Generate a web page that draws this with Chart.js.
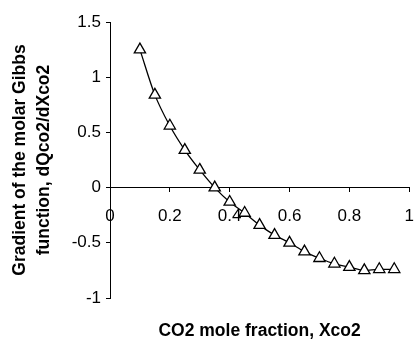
<!DOCTYPE html>
<html>
<head>
<meta charset="utf-8">
<script src="https://cdn.jsdelivr.net/npm/chart.js@4/dist/chart.umd.min.js"></script>
<style>
  html, body { margin: 0; padding: 0; background: #fff; }
  #wrap { width: 417px; height: 342px; }
</style>
</head>
<body>
<div id="wrap"><canvas id="chart"></canvas></div>
<script>
// CO2 mole fraction
const xco2 = [0.1, 0.15, 0.2, 0.25, 0.3, 0.35, 0.4, 0.45, 0.5, 0.55, 0.6, 0.65, 0.7, 0.75, 0.8, 0.85, 0.9, 0.95];
// gradient dQco2/dXco2
const gradient = [1.25, 0.84, 0.56, 0.34, 0.16, 0.0, -0.13, -0.23, -0.34, -0.43, -0.5, -0.58, -0.64, -0.69, -0.72, -0.75, -0.74, -0.74];

const xTitle = 'CO2 mole fraction, Xco2';
const yTitle = ['Gradient of the molar Gibbs', 'function, dQco2/dXco2'];

const font = 'Liberation Sans, Arial, sans-serif';
const fmt = v => String(Math.round(v * 10) / 10);

new Chart(document.getElementById('chart'), {
  type: 'line',
  data: {
    datasets: [{
      data: xco2.map((x, i) => ({ x: x, y: gradient[i] })),
      borderColor: '#000',
      borderWidth: 1.3,
      cubicInterpolationMode: 'monotone',
      pointStyle: 'triangle',
      pointRadius: 6.5,
      pointBorderWidth: 1.3,
      pointBackgroundColor: '#fff',
      pointBorderColor: '#000',
      fill: false
    }]
  },
  options: {
    responsive: true,
    maintainAspectRatio: false,
    animation: false,
    layout: { padding: { top: 22, right: 3, left: 8, bottom: 0 } },
    plugins: { legend: { display: false }, tooltip: { enabled: false } },
    scales: {
      x: {
        type: 'linear',
        min: 0, max: 1,
        position: 'bottom',
        grid: { display: false },
        border: { display: false },
        ticks: { display: false },
        title: {
          display: true,
          text: xTitle,
          color: '#000',
          font: { family: font, size: 17.5, weight: 'bold' },
          padding: { top: 0, bottom: 0 }
        },
        afterFit: s => { s.height = 44; s.paddingLeft = 0; s.paddingRight = 0; }
      },
      x2: {
        type: 'linear',
        min: 0, max: 1,
        position: { y: 0 },
        grid: { drawOnChartArea: false, tickLength: 4, color: '#000' },
        border: { display: true, color: '#000', width: 1 },
        ticks: {
          stepSize: 0.2,
          color: '#000',
          padding: 15,
          maxRotation: 0,
          font: { family: font, size: 17 },
          callback: fmt
        },
        afterFit: s => { s.paddingLeft = 0; s.paddingRight = 0; }
      },
      y: {
        min: -1, max: 1.5,
        grid: { drawOnChartArea: false, tickLength: 4, color: '#000' },
        border: { display: true, color: '#000', width: 1 },
        ticks: {
          stepSize: 0.5,
          color: '#000',
          padding: 5,
          font: { family: font, size: 17 },
          callback: fmt
        },
        title: {
          display: true,
          text: yTitle,
          color: '#000',
          font: { family: font, size: 17.5, weight: 'bold', lineHeight: 1.37 },
          padding: { top: 0, bottom: 12 }
        },
        afterFit: s => { s.width = 102; s.paddingTop = 0; s.paddingBottom = 0; }
      }
    }
  }
});
</script>
</body>
</html>
